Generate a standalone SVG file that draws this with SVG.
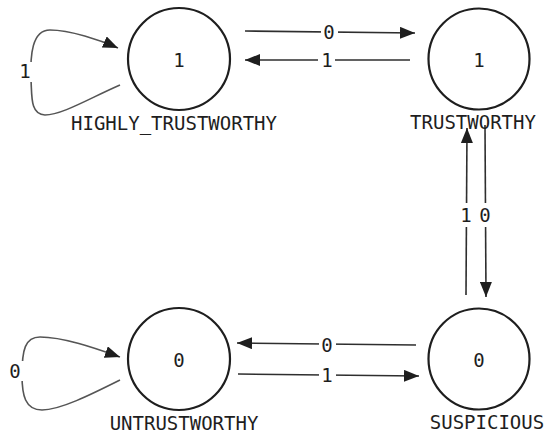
<svg xmlns="http://www.w3.org/2000/svg" width="556" height="444" viewBox="0 0 556 444">
<style>
.node circle{fill:#fff;stroke:#1e1e1e;stroke-width:2.2}
text{font-family:"DejaVu Sans Mono","Liberation Mono",monospace;font-size:19px;fill:#1e1e1e;text-anchor:middle;dominant-baseline:central}
.name{dominant-baseline:alphabetic}
.edge path{fill:none;stroke:#2e2e2e;stroke-width:1.6}
.loop path{stroke:#555}
.lbl rect{fill:#fff}
</style>
<defs>
<marker id="ah" markerUnits="userSpaceOnUse" markerWidth="16" markerHeight="12" refX="15" refY="6" orient="auto">
<path d="M0,0 L15,6 L0,12 z" fill="#1e1e1e"/>
</marker>
</defs>
<rect width="556" height="444" fill="#fff"/>
<g id="connectors">
<g class="edge"><path d="M245,31 L415,33" marker-end="url(#ah)"/></g>
<g class="edge"><path d="M410,60 L245,60" marker-end="url(#ah)"/></g>
<g class="edge"><path d="M485,125 L486,297" marker-end="url(#ah)"/></g>
<g class="edge"><path d="M466,295 L467,128" marker-end="url(#ah)"/></g>
<g class="edge"><path d="M416,345 L237,343" marker-end="url(#ah)"/></g>
<g class="edge"><path d="M238,374 L419,376" marker-end="url(#ah)"/></g>
<g class="edge loop"><path d="M120,85 C90,98 62,115 45,115 C30,115 32,95 31,80 C30,55 32,30 50,30 C70,30 100,40 118,48" marker-end="url(#ah)"/></g>
<g class="edge loop"><path d="M120,380 C90,395 60,410 42,410 C25,410 22,395 22,375 C22,350 25,337 40,337 C65,337 100,350 120,357" marker-end="url(#ah)"/></g>
<g class="lbl">
<rect x="321" y="23" width="17" height="20"/><text x="329" y="32">0</text>
<rect x="318" y="50" width="17" height="20"/><text x="327" y="60">1</text>
<rect x="458" y="203" width="16" height="24"/><text x="466" y="215">1</text>
<rect x="477" y="203" width="16" height="24"/><text x="485" y="215">0</text>
<rect x="319" y="335" width="17" height="20"/><text x="327" y="345">0</text>
<rect x="319" y="365" width="17" height="20"/><text x="327" y="375">1</text>
<rect x="17" y="62" width="18" height="20"/><text x="25" y="71">1</text>
<rect x="6" y="361" width="18" height="20"/><text x="15" y="371">0</text>
</g>
</g>
<g id="HIGHLY_TRUSTWORTHY" class="node"><circle cx="179" cy="59" r="51"/><text x="179" y="60">1</text><text class="name" x="174" y="130">HIGHLY_TRUSTWORTHY</text></g>
<g id="TRUSTWORTHY" class="node"><circle cx="479" cy="59" r="50.5"/><text x="479" y="60">1</text><text class="name" x="473" y="129">TRUSTWORTHY</text></g>
<g id="UNTRUSTWORTHY" class="node"><circle cx="179" cy="359" r="51"/><text x="179" y="360">0</text><text class="name" x="184" y="430">UNTRUSTWORTHY</text></g>
<g id="SUSPICIOUS" class="node"><circle cx="479" cy="359" r="50.5"/><text x="479" y="360">0</text><text class="name" x="487" y="429">SUSPICIOUS</text></g>
</svg>
